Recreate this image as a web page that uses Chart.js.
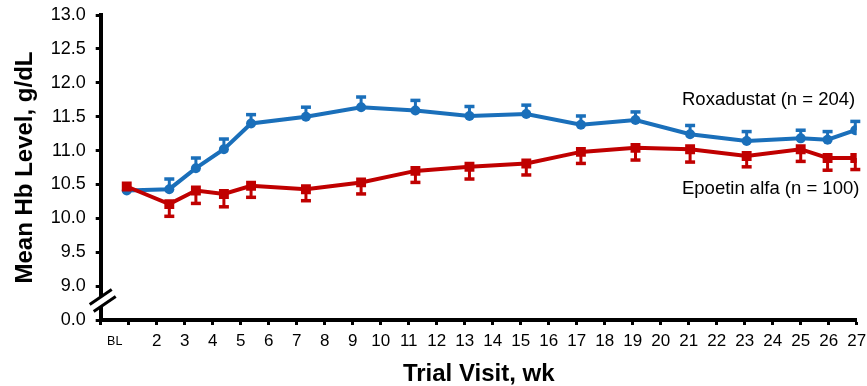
<!DOCTYPE html>
<html>
<head>
<meta charset="utf-8">
<script src="https://cdn.jsdelivr.net/npm/chart.js@4/dist/chart.umd.min.js"></script>
<style>
  html, body { margin: 0; padding: 0; background: #ffffff; }
  #wrap { width: 867px; height: 386px; }
</style>
</head>
<body>
<div id="wrap"><canvas id="hb" width="867" height="386"></canvas></div>
<script>
// Visit positions on the week axis (BL plotted just left of week 1)
const visitWeeks = [0.93, 2.45, 3.4, 4.4, 5.37, 7.33, 9.3, 11.24, 13.17, 15.2, 17.15, 19.1, 21.05, 23.07, 25.0, 25.96, 26.95];

// Mean Hb (g/dL) and standard error per visit
const roxaMean = [10.41, 10.43, 10.74, 11.02, 11.40, 11.50, 11.64, 11.59, 11.51, 11.54, 11.38, 11.45, 11.24, 11.14, 11.18, 11.16, 11.30];
const roxaSE   = [0, 0.15, 0.15, 0.15, 0.13, 0.14, 0.15, 0.15, 0.14, 0.13, 0.13, 0.12, 0.13, 0.14, 0.12, 0.12, 0.13];
const epoMean  = [10.47, 10.21, 10.41, 10.36, 10.48, 10.43, 10.53, 10.70, 10.76, 10.81, 10.98, 11.04, 11.02, 10.92, 11.02, 10.89, 10.89];
const epoSE    = [0, 0.18, 0.19, 0.19, 0.17, 0.17, 0.17, 0.17, 0.18, 0.17, 0.17, 0.18, 0.19, 0.16, 0.18, 0.18, 0.17];

const seriesNames = ['Roxadustat (n = 204)', 'Epoetin alfa (n = 100)'];

// Week axis: tick marks at every week, "BL" label centred between 0 and 1
const xTickPositions = [0, 0.5, 1, 2, 3, 4, 5, 6, 7, 8, 9, 10, 11, 12, 13, 14, 15, 16, 17, 18, 19, 20, 21, 22, 23, 24, 25, 26, 27];
const xTickLabels    = ['', 'BL', '', '2', '3', '4', '5', '6', '7', '8', '9', '10', '11', '12', '13', '14', '15', '16', '17', '18', '19', '20', '21', '22', '23', '24', '25', '26', '27'];

// Hb axis is broken below 9.0: the lowest slot stands for 0.0
const yTickPositions = [8.5, 9, 9.5, 10, 10.5, 11, 11.5, 12, 12.5, 13];
const yTickLabels    = ['0.0', '9.0', '9.5', '10.0', '10.5', '11.0', '11.5', '12.0', '12.5', '13.0'];

const BLUE = '#1A6FBA';
const RED = '#C00000';
const FONT = '"Liberation Sans", Arial, Helvetica, sans-serif';

// One-sided error bars: up for roxadustat, down for epoetin alfa
const errorBars = {
  id: 'errorBars',
  beforeDatasetsDraw(chart) {
    const { ctx, scales: { x, y } } = chart;
    const specs = [
      { mean: roxaMean, err: roxaSE, dir: 1, color: BLUE },
      { mean: epoMean, err: epoSE, dir: -1, color: RED }
    ];
    ctx.save();
    specs.forEach(s => {
      ctx.strokeStyle = s.color;
      ctx.fillStyle = s.color;
      ctx.lineWidth = 3;
      visitWeeks.forEach((w, i) => {
        if (!s.err[i]) return;
        const px = x.getPixelForValue(w);
        const p0 = y.getPixelForValue(s.mean[i]);
        const p1 = y.getPixelForValue(s.mean[i] + s.dir * s.err[i]);
        ctx.beginPath();
        ctx.moveTo(px, p0);
        ctx.lineTo(px, p1);
        ctx.stroke();
        ctx.fillRect(px - 5, p1 - 1.75, 10, 3.5);
      });
    });
    ctx.restore();
  }
};

// "//" break mark on the Hb axis between 0.0 and 9.0
const axisBreak = {
  id: 'axisBreak',
  afterDraw(chart) {
    const { ctx, chartArea, scales: { y } } = chart;
    const x0 = chartArea.left;
    const yc = (y.getPixelForValue(9) + y.getPixelForValue(8.5)) / 2;
    const s1 = [[x0 - 11, yc + 1.5], [x0 + 11, yc - 13.5]];
    const s2 = [[x0 - 7, yc + 8.5], [x0 + 15, yc - 6.5]];
    ctx.save();
    ctx.fillStyle = '#ffffff';
    ctx.beginPath();
    ctx.moveTo(s1[0][0], s1[0][1]);
    ctx.lineTo(s1[1][0], s1[1][1]);
    ctx.lineTo(s2[1][0], s2[1][1]);
    ctx.lineTo(s2[0][0], s2[0][1]);
    ctx.closePath();
    ctx.fill();
    ctx.strokeStyle = '#000000';
    ctx.lineWidth = 3;
    [s1, s2].forEach(s => {
      ctx.beginPath();
      ctx.moveTo(s[0][0], s[0][1]);
      ctx.lineTo(s[1][0], s[1][1]);
      ctx.stroke();
    });
    ctx.restore();
  }
};

// Series names written next to the lines
const seriesLabels = {
  id: 'seriesLabels',
  afterDraw(chart) {
    const { ctx, scales: { x, y } } = chart;
    ctx.save();
    ctx.font = '18.5px ' + FONT;
    ctx.fillStyle = '#000000';
    ctx.textAlign = 'left';
    ctx.textBaseline = 'middle';
    const lx = x.getPixelForValue(20.76);
    ctx.fillText(seriesNames[0], lx, y.getPixelForValue(11.74));
    ctx.fillText(seriesNames[1], lx, y.getPixelForValue(10.44));
    ctx.restore();
  }
};

const toPoints = (means) => visitWeeks.map((w, i) => ({ x: w, y: means[i] }));

new Chart(document.getElementById('hb'), {
  type: 'line',
  data: {
    datasets: [
      {
        label: seriesNames[1],
        data: toPoints(epoMean),
        borderColor: RED,
        backgroundColor: RED,
        borderWidth: 4,
        pointStyle: 'rect',
        pointRadius: 7,
        pointBorderWidth: 0,
        tension: 0,
        order: 0
      },
      {
        label: seriesNames[0],
        data: toPoints(roxaMean),
        borderColor: BLUE,
        backgroundColor: BLUE,
        borderWidth: 4,
        pointStyle: 'circle',
        pointRadius: 5,
        pointBorderWidth: 0,
        tension: 0,
        order: 1
      }
    ]
  },
  options: {
    responsive: false,
    animation: false,
    devicePixelRatio: 1,
    layout: { padding: { top: 15, right: 10.3, bottom: 0, left: 0 } },
    plugins: {
      legend: { display: false },
      tooltip: { enabled: false }
    },
    scales: {
      x: {
        type: 'linear',
        min: 0,
        max: 27,
        afterBuildTicks: (s) => { s.ticks = xTickPositions.map(v => ({ value: v })); },
        afterFit: (s) => {
          s.height = 66;
          s.paddingLeft = 0;
          s.paddingRight = 0;
        },
        ticks: {
          autoSkip: false,
          maxRotation: 0,
          padding: 6,
          color: '#000000',
          font: (c) => (c.tick && c.tick.value === 0.5)
            ? { family: FONT, size: 12.5, lineHeight: 1.632 }
            : { family: FONT, size: 17, lineHeight: 1.2 },
          callback: (v) => xTickLabels[xTickPositions.indexOf(v)]
        },
        grid: {
          drawOnChartArea: false,
          drawTicks: true,
          tickLength: 5,
          tickWidth: 3,
          tickColor: (c) => (c.tick && c.tick.value === 0.5) ? 'rgba(0,0,0,0)' : '#000000'
        },
        border: { display: true, color: '#000000', width: 4 },
        title: {
          display: true,
          text: 'Trial Visit, wk',
          color: '#000000',
          font: { family: FONT, size: 24, weight: 'bold', lineHeight: 0.95 },
          padding: 0
        }
      },
      y: {
        type: 'linear',
        min: 8.5,
        max: 13,
        afterBuildTicks: (s) => { s.ticks = yTickPositions.map(v => ({ value: v })); },
        afterFit: (s) => {
          s.width = 100.7;
          s.paddingTop = 0;
          s.paddingBottom = 0;
        },
        ticks: {
          padding: 10,
          color: '#000000',
          font: { family: FONT, size: 18 },
          callback: (v) => yTickLabels[yTickPositions.indexOf(v)]
        },
        grid: {
          drawOnChartArea: false,
          drawTicks: true,
          tickLength: 5,
          tickWidth: 3,
          tickColor: '#000000'
        },
        border: { display: true, color: '#000000', width: 4 },
        title: {
          display: true,
          text: 'Mean Hb Level, g/dL',
          color: '#000000',
          font: { family: FONT, size: 24, weight: 'bold' },
          padding: { top: 11, bottom: 0 }
        }
      }
    }
  },
  plugins: [errorBars, axisBreak, seriesLabels]
});
</script>
</body>
</html>
